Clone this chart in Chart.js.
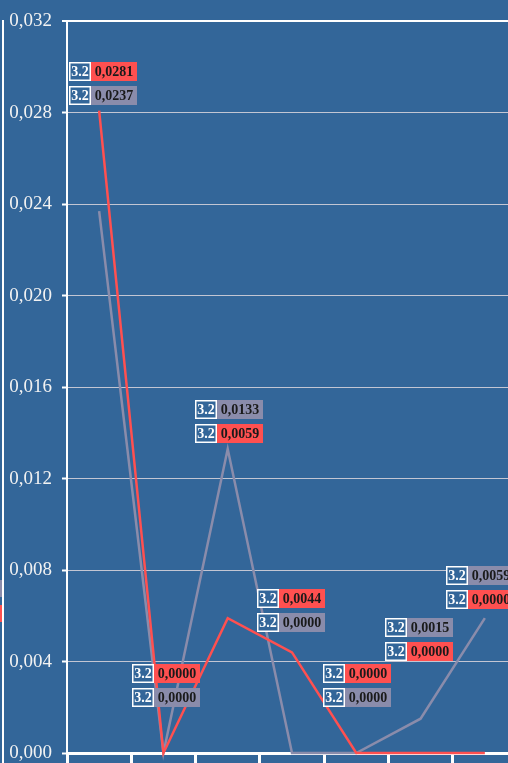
<!DOCTYPE html>
<html>
<head>
<meta charset="utf-8">
<script src="https://cdn.jsdelivr.net/npm/chart.js@4"></script>
<style>
html,body{margin:0;padding:0;background:#336699;overflow:hidden;width:508px;height:763px;}
#wrap{position:absolute;left:0;top:0;width:540px;height:800px;}
canvas{display:block;}
</style>
</head>
<body>
<div id="wrap"><canvas id="c" width="540" height="800"></canvas></div>
<script>
// ---- data ----
const categories = ['1', '2', '3', '4', '5', '6', '7'];
const seriesNames = ['Série 1', 'Série 2'];
const redValues = [0.0281, 0.0000, 0.0059, 0.0044, 0.0000, 0.0000, 0.0000];
const grayValues = [0.0237, 0.0000, 0.0133, 0.0000, 0.0000, 0.0015, 0.0059];
const yMin = 0, yMax = 0.032, yStep = 0.004;
const tagText = '3.2';

// ---- styling / label layout ----
const BG = '#336699';
const RED = '#ff5050';
const GRAY = '#8a8cab';
const labelLift = [0, 41, 0, 15, 41, 52, 4];
const labelShift = [4, 3, 1, -1, 1, -2, -5];
const fmt = v => v.toFixed(4).replace('.', ',');

const bgPlugin = {
  id: 'bg',
  beforeDraw(chart) {
    const ctx = chart.ctx;
    ctx.save();
    ctx.fillStyle = BG;
    ctx.fillRect(0, 0, chart.width, chart.height);
    // cropped legend remnants on the left edge
    ctx.fillStyle = GRAY;
    ctx.fillRect(0, 580, 2, 17);
    ctx.fillStyle = RED;
    ctx.fillRect(0, 605, 2, 17);
    ctx.strokeStyle = '#ffffff';
    ctx.lineWidth = 2;
    ctx.beginPath();
    ctx.moveTo(3, 20);
    ctx.lineTo(3, chart.height);
    ctx.stroke();
    ctx.restore();
  }
};

const labelPlugin = {
  id: 'pairLabels',
  afterDatasetsDraw(chart) {
    const ctx = chart.ctx;
    const mr = chart.getDatasetMeta(0), mg = chart.getDatasetMeta(1);
    ctx.save();
    ctx.font = 'bold 14px "Liberation Serif"';
    ctx.textBaseline = 'middle';
    ctx.textAlign = 'center';
    for (let i = 0; i < categories.length; i++) {
      const pr = mr.data[i], pg = mg.data[i];
      const topY = Math.min(pr.y, pg.y);
      const lowerC = topY - 15 - labelLift[i];
      const upperC = lowerC - 24;
      const grayTop = grayValues[i] > redValues[i];
      const items = [
        {v: redValues[i], col: RED, y: grayTop ? lowerC : upperC},
        {v: grayValues[i], col: GRAY, y: grayTop ? upperC : lowerC}
      ];
      items.forEach(it => {
        const txt = fmt(it.v);
        const tagW = 22, h = 19;
        const valW = Math.round(ctx.measureText(txt).width) + 7;
        const total = tagW + valW;
        const x0 = Math.round(pr.x - total / 2 + labelShift[i]);
        const y0 = Math.round(it.y - h / 2);
        ctx.fillStyle = BG;
        ctx.fillRect(x0, y0, tagW, h);
        ctx.strokeStyle = '#ffffff';
        ctx.lineWidth = 1.5;
        ctx.strokeRect(x0 + 0.75, y0 + 0.75, tagW - 1.5, h - 1.5);
        ctx.fillStyle = '#ffffff';
        ctx.fillText(tagText, x0 + tagW / 2, y0 + h / 2 + 1);
        ctx.fillStyle = it.col;
        ctx.fillRect(x0 + tagW, y0, valW, h);
        ctx.fillStyle = '#1a1a1a';
        ctx.fillText(txt, x0 + tagW + valW / 2, y0 + h / 2 + 1);
      });
    }
    ctx.restore();
  }
};

new Chart(document.getElementById('c'), {
  type: 'line',
  data: {
    labels: categories,
    datasets: [
      {label: seriesNames[0], data: redValues, borderColor: RED, borderWidth: 2.5, pointRadius: 0, tension: 0, clip: false},
      {label: seriesNames[1], data: grayValues, borderColor: GRAY, borderWidth: 2.5, pointRadius: 0, tension: 0, clip: false}
    ]
  },
  options: {
    responsive: false,
    animation: false,
    devicePixelRatio: 1,
    layout: {padding: {top: 19, right: 23, left: 0, bottom: 0}},
    plugins: {legend: {display: false}, tooltip: {enabled: false}},
    scales: {
      x: {
        offset: true,
        grid: {offset: true, drawOnChartArea: false, color: '#ffffff', lineWidth: 3, tickLength: 20, tickColor: '#ffffff'},
        border: {color: '#ffffff', width: 3},
        ticks: {display: false},
        afterFit(s) { s.height = 47; }
      },
      y: {
        min: yMin, max: yMax,
        ticks: {
          stepSize: yStep,
          color: '#f2f2f2',
          font: {family: '"Liberation Serif"', size: 19},
          padding: 10,
          callback: v => v.toFixed(3).replace('.', ',')
        },
        grid: {
          color: c => c.tick && Math.abs(c.tick.value - yMax) < 1e-9 ? '#ffffff' : '#c3c6d3',
          lineWidth: c => c.tick && Math.abs(c.tick.value - yMax) < 1e-9 ? 2 : 1,
          tickColor: '#ffffff',
          tickLength: 5,
          tickWidth: 2
        },
        border: {color: '#ffffff', width: 2},
        afterFit(s) { s.width = 67; }
      }
    }
  },
  plugins: [bgPlugin, labelPlugin]
});
</script>
</body>
</html>
